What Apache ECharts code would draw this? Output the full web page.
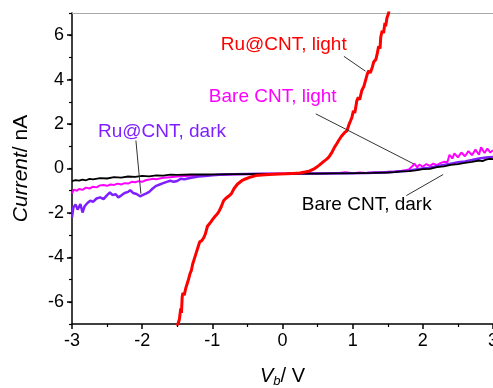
<!DOCTYPE html>
<html><head><meta charset="utf-8">
<script src="https://cdn.jsdelivr.net/npm/echarts@6/dist/echarts.min.js"></script>
<style>html,body{margin:0;padding:0;background:#fff}#c{width:493px;height:388px}</style>
</head><body><div id="c"></div>
<script>
// ---- data (V in volts, I in nA) ----
const xTicks = [-3, -2, -1, 0, 1, 2, 3];
const yTicks = [-6, -4, -2, 0, 2, 4, 6];

const bareDarkV = [-3,-2.95,-2.9,-2.85,-2.8,-2.75,-2.7,-2.6,-2.5,-2.4,-2.3,-2.2,-2.1,-2.0,-1.9,-1.8,-1.7,-1.6,-1.5,-1.3,-1.1,-0.9,-0.7,-0.5,-0.3,-0.1,0.1,0.3,0.5,0.7,0.9,1.1,1.3,1.5,1.6,1.7,1.8,1.9,2.0,2.1,2.2,2.3,2.4,2.5,2.6,2.7,2.8,2.85,2.9,2.95,3.0];
const bareDarkI = [-0.57,-0.52,-0.55,-0.5,-0.53,-0.47,-0.49,-0.43,-0.45,-0.39,-0.41,-0.36,-0.38,-0.33,-0.35,-0.31,-0.32,-0.28,-0.29,-0.27,-0.27,-0.26,-0.25,-0.25,-0.24,-0.24,-0.24,-0.23,-0.23,-0.22,-0.22,-0.21,-0.2,-0.18,-0.16,-0.13,-0.12,-0.08,-0.03,-0.02,0.06,0.1,0.16,0.2,0.25,0.3,0.36,0.33,0.4,0.43,0.42];

const bareLightV = [-3,-2.97,-2.93,-2.9,-2.85,-2.8,-2.75,-2.7,-2.65,-2.6,-2.55,-2.5,-2.45,-2.4,-2.35,-2.3,-2.25,-2.2,-2.15,-2.1,-2.05,-2.0,-1.95,-1.9,-1.85,-1.8,-1.7,-1.6,-1.5,-1.4,-1.3,-1.2,-1.0,-0.8,-0.6,-0.4,-0.2,0,0.2,0.4,0.6,0.8,0.9,1.0,1.1,1.2,1.3,1.4,1.5,1.6,1.7,1.75,1.8,1.85,1.88,1.92,1.95,2.0,2.05,2.1,2.15,2.2,2.25,2.3,2.35,2.38,2.42,2.45,2.5,2.55,2.6,2.65,2.7,2.75,2.8,2.83,2.88,2.92,2.96,3.0];
const bareLightI = [-1.11,-0.95,-1.0,-0.92,-0.96,-0.86,-0.9,-0.82,-0.85,-0.76,-0.74,-0.78,-0.72,-0.74,-0.68,-0.72,-0.66,-0.68,-0.6,-0.62,-0.57,-0.6,-0.53,-0.5,-0.46,-0.48,-0.42,-0.39,-0.36,-0.34,-0.33,-0.31,-0.29,-0.27,-0.26,-0.25,-0.24,-0.24,-0.23,-0.22,-0.22,-0.2,-0.17,-0.21,-0.18,-0.2,-0.17,-0.19,-0.15,-0.13,-0.1,-0.08,-0.04,0.1,0.22,0.05,0.18,0.08,0.2,0.12,0.22,0.15,0.24,0.3,0.28,0.62,0.45,0.68,0.5,0.72,0.55,0.78,0.6,0.85,0.62,0.95,0.7,0.9,0.72,0.82];

const ruDarkV = [-3,-2.98,-2.95,-2.92,-2.88,-2.85,-2.82,-2.78,-2.74,-2.7,-2.65,-2.6,-2.55,-2.5,-2.46,-2.42,-2.38,-2.34,-2.3,-2.25,-2.2,-2.17,-2.13,-2.08,-2.03,-1.98,-1.94,-1.9,-1.85,-1.8,-1.75,-1.7,-1.65,-1.6,-1.55,-1.5,-1.45,-1.4,-1.3,-1.2,-1.1,-1.0,-0.9,-0.7,-0.5,-0.3,0,0.3,0.6,0.9,1.2,1.5,1.6,1.7,1.8,1.9,2.0,2.1,2.2,2.3,2.4,2.5,2.6,2.7,2.8,2.9,3.0];
const ruDarkI = [-2.2,-1.75,-1.62,-1.85,-1.6,-1.98,-1.7,-1.55,-1.45,-1.5,-1.35,-1.3,-1.38,-1.2,-1.08,-1.2,-1.15,-1.3,-1.22,-1.1,-1.05,-0.98,-1.1,-1.15,-1.25,-1.18,-1.12,-1.05,-0.9,-0.78,-0.72,-0.66,-0.6,-0.55,-0.6,-0.56,-0.46,-0.48,-0.42,-0.36,-0.34,-0.3,-0.28,-0.26,-0.25,-0.24,-0.24,-0.23,-0.22,-0.21,-0.2,-0.17,-0.15,-0.12,-0.1,-0.04,0.0,0.03,0.1,0.16,0.22,0.28,0.32,0.38,0.45,0.5,0.52];

const ruLightV = [-1.52,-1.49,-1.47,-1.45,-1.44,-1.43,-1.42,-1.4,-1.38,-1.36,-1.34,-1.32,-1.3,-1.28,-1.25,-1.23,-1.2,-1.18,-1.15,-1.12,-1.1,-1.07,-1.05,-1.02,-0.99,-0.96,-0.93,-0.9,-0.87,-0.84,-0.81,-0.77,-0.73,-0.69,-0.64,-0.58,-0.52,-0.45,-0.38,-0.3,-0.19,-0.05,0.05,0.15,0.25,0.32,0.38,0.45,0.52,0.58,0.63,0.66,0.7,0.74,0.78,0.8,0.84,0.88,0.92,0.95,0.97,0.99,1.01,1.03,1.06,1.08,1.1,1.13,1.16,1.18,1.21,1.23,1.25,1.28,1.3,1.33,1.35,1.37,1.39,1.4,1.42,1.44,1.46,1.47,1.49,1.51,1.53];
const ruLightI = [-7.3,-7.0,-6.8,-6.3,-6.5,-5.8,-5.6,-5.7,-5.4,-5.35,-5.0,-4.75,-4.6,-4.3,-4.0,-3.8,-3.5,-3.3,-3.25,-3.1,-2.95,-2.6,-2.6,-2.4,-2.27,-2.15,-2.05,-1.9,-1.7,-1.45,-1.35,-1.25,-1.14,-0.9,-0.7,-0.55,-0.46,-0.38,-0.32,-0.29,-0.27,-0.25,-0.24,-0.22,-0.2,-0.16,-0.12,-0.02,0.14,0.3,0.42,0.51,0.7,0.95,1.15,1.26,1.45,1.6,1.71,2.0,2.15,2.31,2.6,2.5,3.06,3.2,3.1,3.51,3.7,3.65,4.27,4.4,4.3,4.56,4.8,4.9,5.17,5.5,5.4,5.91,6.2,6.1,6.55,6.4,6.8,6.97,7.3];

// annotations (data coordinates)
const labels = [
  {text: 'Ru@CNT, light', v: -0.88, i: 5.59, color: '#ff0000'},
  {text: 'Bare CNT, light', v: -1.05, i: 3.24, color: '#ff00ff'},
  {text: 'Ru@CNT, dark', v: -2.63, i: 1.64, color: '#7f1fff'},
  {text: 'Bare CNT, dark', v: 0.275, i: -1.62, color: '#000000'}
];
const arrows = [
  [[0.875, 5.05], [1.183, 4.38]],
  [[0.474, 2.46], [1.868, 0.21]],
  [[-2.089, 1.26], [-2.018, -1.14]],
  [[1.765, -1.22], [2.29, -0.27]]
];

const zip = (a, b) => a.map((x, k) => [x, b[k]]);
const FONT = '"Liberation Sans", Arial, sans-serif';

const chart = echarts.init(document.getElementById('c'), null, {renderer: 'canvas'});
const lineSeries = (name, data, color, w) => ({
  name, type: 'line', data, showSymbol: false, symbol: 'none',
  lineStyle: {color, width: w}, itemStyle: {color}, clip: true, animation: false
});

const red = lineSeries('Ru@CNT, light', zip(ruLightV, ruLightI), '#ff0000', 3);
red.markLine = {
  silent: true, animation: false, symbol: ['none', 'arrow'], symbolSize: [0, 8],
  label: {show: false},
  lineStyle: {color: '#333', width: 1, type: 'solid'},
  data: arrows.map(a => [{coord: a[0]}, {coord: a[1]}])
};

chart.setOption({
  animation: false,
  grid: {left: 72, right: 0, top: 13, bottom: 64, containLabel: false, outerBoundsMode: 'none'},
  xAxis: [{
    type: 'value', min: -3, max: 3, interval: 1,
    name: '{i|V}{s|b}{n|/ V}', nameLocation: 'middle', nameGap: 40,
    nameTextStyle: {rich: {
      i: {fontFamily: FONT, fontSize: 20, fontStyle: 'italic', color: '#000', lineHeight: 24, verticalAlign: 'middle'},
      s: {fontFamily: FONT, fontSize: 13, fontStyle: 'italic', color: '#000', lineHeight: 24, verticalAlign: 'bottom', padding: [12, 0, 0, 0]},
      n: {fontFamily: FONT, fontSize: 20, color: '#000', lineHeight: 24, verticalAlign: 'middle'}
    }},
    axisLine: {show: true, onZero: false, lineStyle: {color: '#000', width: 1.5}},
    axisTick: {show: true, inside: false, length: 5, lineStyle: {color: '#000', width: 1.5}},
    minorTick: {show: true, splitNumber: 2, length: 3, lineStyle: {color: '#000', width: 1.2}},
    splitLine: {show: false},
    axisLabel: {fontFamily: FONT, fontSize: 18, color: '#000', margin: 8, hideOverlap: false,
      showMinLabel: true, showMaxLabel: true,
      formatter: v => xTicks.includes(v) ? String(v) : ''}
  }, {
    type: 'value', min: -3, max: 3, position: 'top',
    axisLine: {show: true, onZero: false, lineStyle: {color: '#a8a8a8', width: 1}},
    axisTick: {show: false}, axisLabel: {show: false}, splitLine: {show: false}
  }],
  yAxis: [{
    type: 'value', min: -7, max: 7, interval: 1, position: 'left',
    name: '{i|Current}{n|/ nA}', nameLocation: 'middle', nameGap: 40, nameRotate: 90,
    nameTextStyle: {rich: {
      i: {fontFamily: FONT, fontSize: 21, fontStyle: 'italic', color: '#000'},
      n: {fontFamily: FONT, fontSize: 21, color: '#000'}
    }},
    axisLine: {show: true, onZero: false, lineStyle: {color: '#000', width: 1.5}},
    axisTick: {show: true, inside: false, length: 3, lineStyle: {color: '#000', width: 1.2}},
    splitLine: {show: false},
    axisLabel: {fontFamily: FONT, fontSize: 18, color: '#000', margin: 8,
      formatter: v => yTicks.includes(v) ? String(v) : ''}
  }, {
    type: 'value', min: -7, max: 7, position: 'left', offset: 0,
    axisLine: {show: false, onZero: false},
    axisTick: {show: true, inside: false, length: 5, customValues: yTicks,
      lineStyle: {color: '#000', width: 1.5}},
    axisLabel: {show: false}, splitLine: {show: false}
  }],
  series: [
    lineSeries('Bare CNT, light', zip(bareLightV, bareLightI), '#ff00ff', 2),
    lineSeries('Ru@CNT, dark', zip(ruDarkV, ruDarkI), '#7f1fff', 2.5),
    lineSeries('Bare CNT, dark', zip(bareDarkV, bareDarkI), '#000000', 1.8),
    red
  ]
});

const graphics = labels.map(l => {
  const p = chart.convertToPixel({gridIndex: 0}, [l.v, l.i]);
  return {type: 'text', x: p[0], y: p[1], silent: true,
    style: {text: l.text, fill: l.color, font: '19px ' + FONT,
      textAlign: 'left', textVerticalAlign: 'middle', align: 'left', verticalAlign: 'middle'}};
});
chart.setOption({graphic: graphics});
</script></body></html>
